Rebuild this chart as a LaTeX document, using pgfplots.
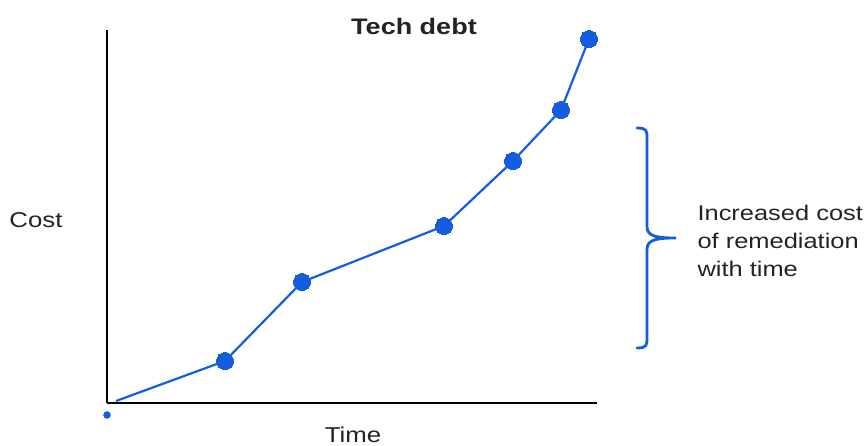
\documentclass[border=0pt]{standalone}
\usepackage{pgfplots}
\pgfplotsset{compat=1.18}
\usepackage{fontspec}
\setmainfont{Liberation Sans}[FakeStretch=1.2]
\definecolor{cblue}{RGB}{20,94,222}
\definecolor{ctext}{RGB}{35,35,35}
\begin{document}
\begin{tikzpicture}[x=1pt,y=1pt]
\useasboundingbox (-107,-43) rectangle (757,403);
\begin{axis}[
  at={(0,0)}, anchor=origin,
  scale only axis, width=490pt, height=373pt,
  xmin=0, xmax=490, ymin=0, ymax=373,
  axis x line*=bottom, axis y line*=left,
  axis line style={line width=2pt, black},
  xtick=\empty, ytick=\empty,
  clip=false,
]
\addplot[cblue, line width=2.2pt, mark=*, mark size=8.5pt, mark options={fill=cblue, draw=cblue, line width=0pt}]
  coordinates {(118,42) (195,121) (337,177) (406,242) (454,293) (482,364)};
\addplot[cblue, line width=2.2pt, forget plot] coordinates {(9,2) (118,42)};
\addplot[only marks, mark=*, mark size=3.5pt, cblue] coordinates {(0,-12)};
\draw[cblue, line width=2.8pt, line cap=round]
  (axis cs:530,275) .. controls (axis cs:540,275) and (axis cs:540,272) .. (axis cs:540,265)
  -- (axis cs:540,176) .. controls (axis cs:540,166) and (axis cs:552,165) .. (axis cs:569,165)
  .. controls (axis cs:552,165) and (axis cs:540,164) .. (axis cs:540,154)
  -- (axis cs:540,65) .. controls (axis cs:540,58) and (axis cs:540,55) .. (axis cs:530,55);
\node[font=\fontsize{22.5}{26}\selectfont\bfseries, text=ctext] at (axis cs:307,377) {Tech debt};
\node[font=\fontsize{21.5}{26}\selectfont, text=ctext] at (axis cs:-71,183) {Cost};
\node[font=\fontsize{21.5}{26}\selectfont, text=ctext] at (axis cs:246,-32) {Time};
\node[font=\fontsize{21.2}{28}\selectfont, text=ctext, anchor=west, align=left] at (axis cs:587,162) {Increased cost\\of remediation\\with time};
\end{axis}
\end{tikzpicture}
\end{document}
